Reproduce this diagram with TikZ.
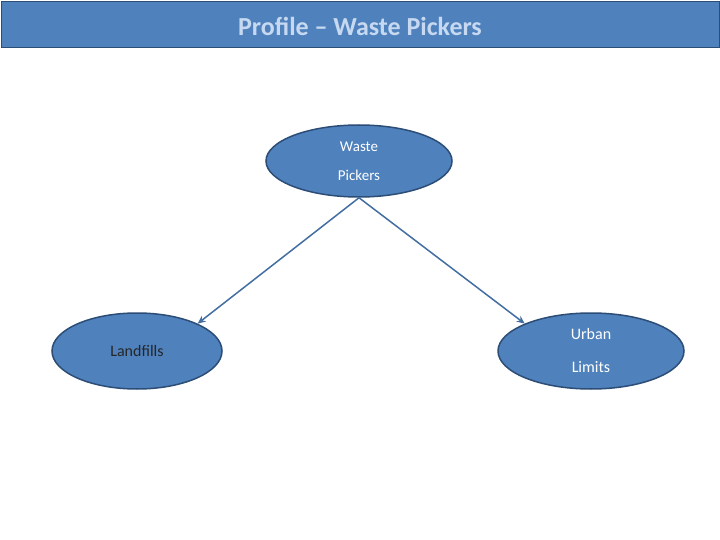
\documentclass[tikz,border=0pt]{standalone}
\usepackage{fontspec}
\setmainfont{Carlito}
\usetikzlibrary{shapes.geometric,arrows.meta}
\definecolor{fillb}{HTML}{4F81BD}
\definecolor{edgeb}{HTML}{2C4D75}
\definecolor{titlec}{HTML}{C6D9F1}
\begin{document}
\begin{tikzpicture}[x=1pt,y=-1pt,
  oval/.style={ellipse,draw=edgeb,line width=1.5pt,fill=fillb,inner sep=0pt,text=white,align=center,font=\fontsize{16}{22}\selectfont},
  conn/.style={draw=fillb!85!black,line width=1.5pt,-{Stealth[length=8pt,width=7pt,open]}}]
\useasboundingbox (0,0) rectangle (720,540);
\fill[white] (0,0) rectangle (720,540);
\node[draw=edgeb,line width=1pt,fill=fillb,minimum width=718pt,minimum height=46pt,anchor=north west,inner sep=0pt] (bar) at (1,1) {};
\node[text=titlec,font=\bfseries\fontsize{26}{30}\selectfont] (title) at (360,26) {Profile – Waste Pickers};
\node[oval,minimum width=186pt,minimum height=72pt,font=\fontsize{15}{29}\selectfont] (wp) at (359,161) {Waste\\Pickers};
\node[oval,minimum width=170pt,minimum height=76pt,text=black!85] (lf) at (137,351) {Landfills};
\node[oval,minimum width=186pt,minimum height=76pt,font=\fontsize{16}{33}\selectfont] (ul) at (591,351) {Urban\\Limits};
\draw[conn] (wp.south) -- (lf.north east);
\draw[conn] (wp.south) -- (ul.north west);
\end{tikzpicture}
\end{document}
